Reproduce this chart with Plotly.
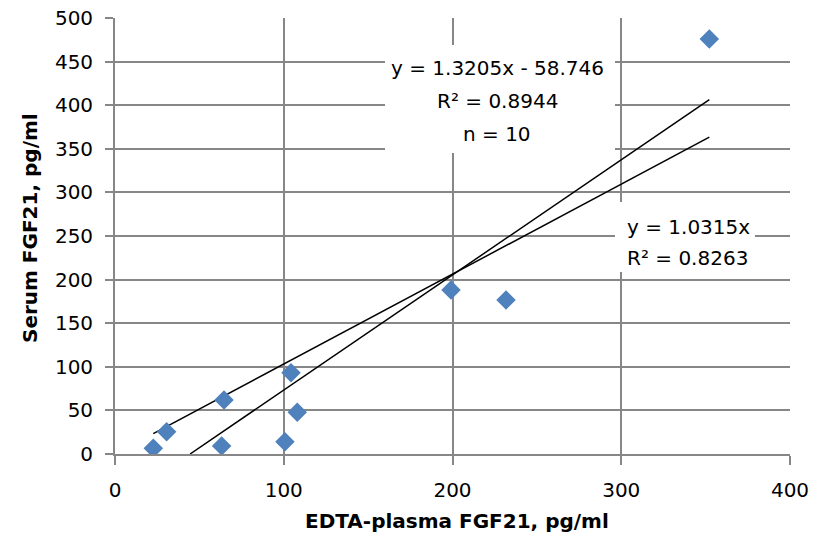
import plotly.graph_objects as go

edta_plasma = [22.7, 30.6, 64.6, 63.2, 104.3, 108.0, 100.7, 199.1, 231.7, 352.2]
serum = [6.5, 25.6, 62.0, 9.2, 93.2, 47.8, 14.1, 188.0, 176.6, 476.0]

fit1_slope, fit1_intercept = 1.3205, -58.746
fit2_slope, fit2_intercept = 1.0315, 0.0
fit1_label = ["y = 1.3205x - 58.746", "R² = 0.8944", "n = 10"]
fit2_label = ["y = 1.0315x", "R² = 0.8263"]

x_ticks = [0, 100, 200, 300, 400]
y_ticks = [0, 50, 100, 150, 200, 250, 300, 350, 400, 450, 500]

xmin, xmax = min(edta_plasma), max(edta_plasma)
x1_start = max(xmin, -fit1_intercept / fit1_slope)
l1x = [x1_start, xmax]
l1y = [fit1_slope * v + fit1_intercept for v in l1x]
l2x = [xmin, xmax]
l2y = [fit2_slope * v + fit2_intercept for v in l2x]

FONT = "DejaVu Sans, sans-serif"
GRID = "#878787"

W, H = 826, 545
PL, PT, PW, PH = 115, 18, 675, 436


def px2paper(px, py):
    return (px - PL) / PW, (PT + PH - py) / PH


fig = go.Figure()
fig.add_trace(go.Scatter(x=l1x, y=l1y, mode="lines", line=dict(color="black", width=1.5), showlegend=False))
fig.add_trace(go.Scatter(x=l2x, y=l2y, mode="lines", line=dict(color="black", width=1.5), showlegend=False))
fig.add_trace(go.Scatter(x=edta_plasma, y=serum, mode="markers",
                         marker=dict(symbol="diamond", size=15, color="#4F81BD", line=dict(width=0)),
                         showlegend=False))

# white label boxes covering the gridlines
for (x0, x1, y0, y1) in [(385, 615, 45, 153), (615, 755, 202, 272)]:
    cx, cy = px2paper((x0 + x1) / 2, (y0 + y1) / 2)
    fig.add_annotation(x=cx, y=cy, xref="paper", yref="paper", text=" ", showarrow=False,
                       xanchor="center", yanchor="middle", width=x1 - x0, height=y1 - y0,
                       bgcolor="white", borderpad=0, borderwidth=0)

for i, txt in enumerate(fit1_label):
    xx, yy = px2paper(497, 68 + 33 * i)
    fig.add_annotation(x=xx, y=yy, xref="paper", yref="paper",
                       text=txt, showarrow=False, xanchor="center", yanchor="middle",
                       font=dict(family=FONT, size=20, color="black"))
for i, txt in enumerate(fit2_label):
    xx, yy = px2paper(625, 227 + 31 * i)
    fig.add_annotation(x=xx, y=yy, xref="paper", yref="paper",
                       text=txt, showarrow=False, xanchor="left", yanchor="middle",
                       font=dict(family=FONT, size=20, color="black"))

xx, yy = px2paper(457, 521)
fig.add_annotation(x=xx, y=yy, xref="paper", yref="paper",
                   text="<b>EDTA-plasma FGF21, pg/ml</b>", showarrow=False,
                   xanchor="center", yanchor="middle", font=dict(family=FONT, size=20, color="black"))
xx, yy = px2paper(30, 228)
fig.add_annotation(x=xx, y=yy, xref="paper", yref="paper",
                   text="<b>Serum FGF21, pg/ml</b>", showarrow=False, textangle=-90,
                   xanchor="center", yanchor="middle", font=dict(family=FONT, size=20, color="black"))

fig.update_layout(
    width=W, height=H,
    margin=dict(l=PL, r=W - PL - PW, t=PT, b=H - PT - PH),
    paper_bgcolor="white", plot_bgcolor="white",
    font=dict(family=FONT, size=20, color="black"),
    xaxis=dict(range=[0, 400], tickvals=x_ticks, showgrid=True, gridcolor=GRID, gridwidth=1.8,
               zeroline=False, showline=True, linecolor=GRID, linewidth=1.8, automargin=False,
               ticks="outside", ticklen=9, tickwidth=1.8, tickcolor=GRID,
               ticklabelstandoff=8, tickfont=dict(size=20)),
    yaxis=dict(range=[0, 500], tickvals=y_ticks, showgrid=True, gridcolor=GRID, gridwidth=1.8,
               zeroline=False, showline=True, linecolor=GRID, linewidth=1.8, automargin=False,
               ticks="outside", ticklen=8, tickwidth=1.8, tickcolor=GRID,
               ticklabelstandoff=8, tickfont=dict(size=20)),
)

fig.write_html("out.html", config={"displayModeBar": False},
               post_script="document.body.style.margin='0';document.body.style.overflow='hidden';")
